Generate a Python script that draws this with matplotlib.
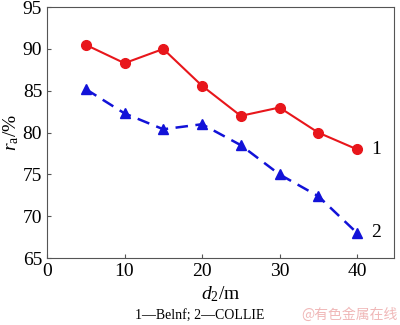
import matplotlib
matplotlib.use('Agg')
import matplotlib.pyplot as plt

plt.rcParams['font.family'] = ['Liberation Serif', 'DejaVu Serif']
plt.rcParams['mathtext.fontset'] = 'custom'
plt.rcParams['mathtext.rm'] = 'Liberation Serif'
plt.rcParams['mathtext.it'] = 'Liberation Serif:italic'

d2 = [5, 10, 15, 20, 25, 30, 35, 40]
belnf = [90.5, 88.3, 90.0, 85.6, 82.0, 83.0, 80.0, 78.0]
collie = [85.2, 82.3, 80.4, 81.0, 78.5, 75.0, 72.4, 68.0]
xticks = [0, 10, 20, 30, 40]
yticks = [65, 70, 75, 80, 85, 90, 95]

fig = plt.figure(figsize=(4, 3.25), dpi=100)
ax = fig.add_axes([0.1175, 0.206, 0.868, 0.772])

ax.plot(d2, belnf, color='#e8161b', marker='o', markersize=7, lw=1.5)
ax.plot(d2, collie, color='#1212d8', marker='^', markersize=7, lw=1.8,
        linestyle=(0, (5, 3)))

ax.text(41.8, belnf[-1], '1', fontsize=14, va='center', ha='left')
ax.text(41.8, collie[-1], '2', fontsize=14, va='center', ha='left')

ax.set_xlim(0, 44.8)
ax.set_ylim(65, 95)
ax.set_xticks(xticks)
ax.set_yticks(yticks)
ax.tick_params(direction='in', length=3, labelsize=14, color='#555555',
               top=False, right=False)
for s in ax.spines.values():
    s.set_color('#555555')

ax.set_xlabel('$d_2$/m', fontsize=14, labelpad=3)
ax.set_ylabel('$r_\\mathrm{a}$/%', fontsize=14, labelpad=1)

fig.text(0.5, 0.02, '1—Belnf; 2—COLLIE', fontsize=10, ha='center')
fig.text(0.995, 0.02, '@有色金属在线', fontsize=10, ha='right', color='#f0b8b8',
         family=['Noto Sans CJK SC', 'DejaVu Sans'])

fig.savefig('out.png', dpi=100)
